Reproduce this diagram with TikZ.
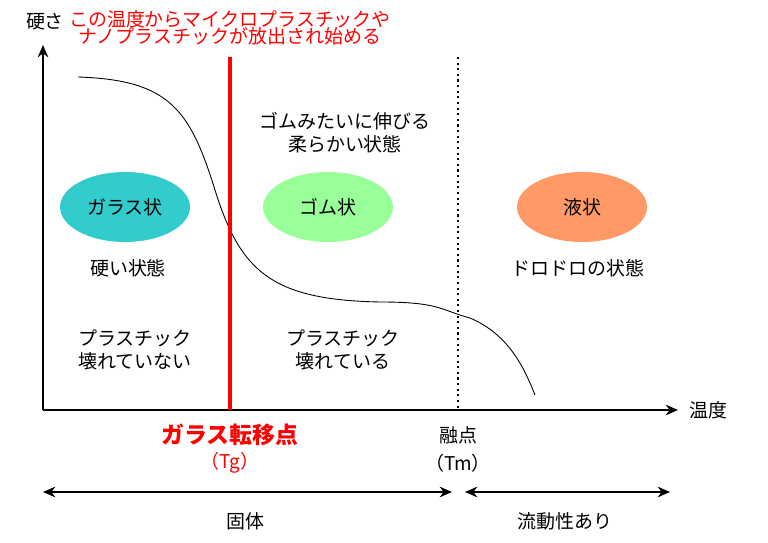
\documentclass[tikz,border=0pt]{standalone}
\usepackage{fontspec}
\setmainfont{Noto Sans CJK JP}
\usetikzlibrary{arrows.meta,shapes.geometric}
\definecolor{cteal}{RGB}{51,204,204}
\definecolor{cgreen}{RGB}{153,255,153}
\definecolor{corange}{RGB}{255,153,102}
\definecolor{cred}{RGB}{255,0,0}
\begin{document}
\begin{tikzpicture}[x=0.02cm, y=-0.02cm,
    >={Stealth[length=7pt,width=6pt]},
    every node/.style={font=\fontsize{10.8}{13}\selectfont, align=center},
    phase/.style={ellipse, draw=none, minimum width=130*0.02cm, minimum height=70*0.02cm, inner sep=0pt},
    redtxt/.style={text=cred},
  ]
  \useasboundingbox (0,0) rectangle (768,543);
  % axes
  \coordinate (o) at (43,410);
  \coordinate (ytop) at (43,45);
  \coordinate (xend) at (678,410);
  \draw[line width=1.6pt, ->] (o) -- (ytop);
  \draw[line width=1.6pt, ->] (o) -- (xend);
  \node (hard) at (45,22) {硬さ};
  \node[anchor=west] (temp) at (683,410) {温度};
  % curve
  \draw[line width=0.5pt] (78,77) .. controls (170,80) and (190,110) .. (215,190)
    .. controls (240,270) and (270,300) .. (380,302)
    .. controls (440,302) and (440,310) .. (470,318)
    .. controls (510,335) and (525,370) .. (535,395);
  % transition lines
  \coordinate (tgtop) at (230,57);
  \coordinate (tg) at (230,410);
  \coordinate (tmtop) at (458,57);
  \coordinate (tm) at (458,410);
  \draw[cred, line width=2.5pt] (tgtop) -- (tg);
  \draw[line width=1.2pt, dotted] (tmtop) -- (tm);
  \node[redtxt] (note) at (230,28) {この温度からマイクロプラスチックや\\[-3pt]ナノプラスチックが放出され始める};
  % phases
  \node[phase, fill=cteal] (glass) at (125,207) {ガラス状};
  \node[phase, fill=cgreen] (rubber) at (328,207) {ゴム状};
  \node[phase, fill=corange] (liquid) at (582,207) {液状};
  \node (hardst) at (128,268) {硬い状態};
  \node (meltst) at (578,268) {ドロドロの状態};
  \node (softst) at (345,133) {ゴムみたいに伸びる\\柔らかい状態};
  \node (intact) at (135,350) {プラスチック\\壊れていない};
  \node (broken) at (343,350) {プラスチック\\壊れている};
  % labels under axis
  \node[redtxt, font=\fontsize{13}{15}\selectfont\bfseries] (tglab) at (230,435) {ガラス転移点};
  \node[redtxt] (tgsym) at (230,463) {（Tg）};
  \node (tmlab) at (458,435) {融点};
  \node (tmsym) at (458,463) {（Tm）};
  % states
  \coordinate (sl) at (43,492);
  \coordinate (sr) at (452,492);
  \coordinate (fl) at (465,492);
  \coordinate (fr) at (670,492);
  \draw[line width=1.6pt, <->] (sl) -- (sr);
  \draw[line width=1.6pt, <->] (fl) -- (fr);
  \node (solid) at (245,521) {固体};
  \node (fluid) at (565,521) {流動性あり};
\end{tikzpicture}
\end{document}
